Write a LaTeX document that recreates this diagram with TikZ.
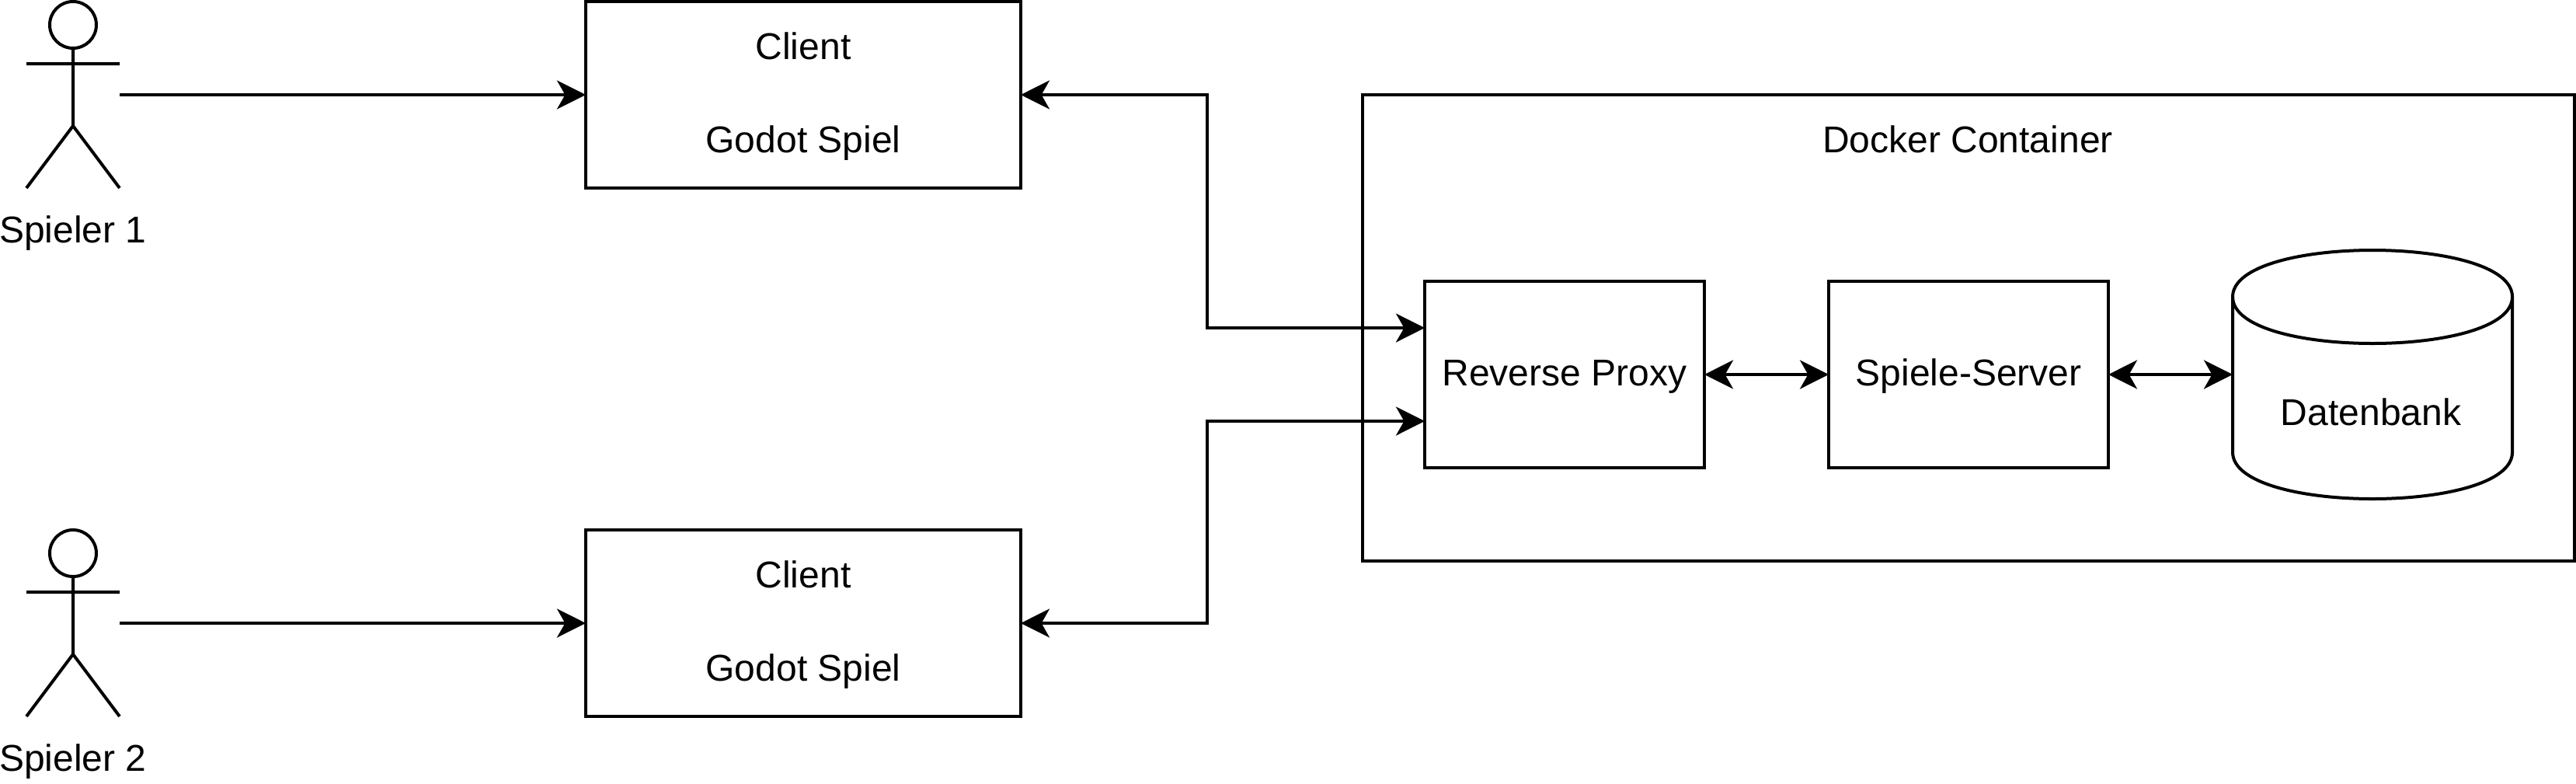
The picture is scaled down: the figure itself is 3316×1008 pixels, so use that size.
\documentclass[tikz,border=0pt]{standalone}
\usepackage{fontspec}
\setmainfont{Liberation Sans}
\usetikzlibrary{arrows.meta,calc}
\tikzset{
  x=0.25pt, y=-0.25pt,
  every node/.style={inner sep=0pt, outer sep=0pt, font=\fontsize{12pt}{15pt}\selectfont},
  txt/.style={text height=10pt, text depth=3.5pt},
  box/.style={draw=black, line width=1pt, text height=10.2pt, text depth=3.2pt},
  clientbox/.style={draw=black, line width=1pt, minimum width=140pt, minimum height=60pt, align=center},
  procbox/.style={box, minimum width=90pt, minimum height=60pt},
  conn/.style={line width=1pt, -{Stealth[length=9.25pt,width=9.25pt,inset=2.6pt]}},
  biconn/.style={line width=1pt, {Stealth[length=9.25pt,width=9.25pt,inset=2.6pt]}-{Stealth[length=9.25pt,width=9.25pt,inset=2.6pt]}},
  actorfig/.pic={
    \draw[line width=1pt] (0,30) ellipse [x radius=7.5pt, y radius=7.5pt];
    \draw[line width=1pt] (0,60) -- (0,160) (-60,80) -- (60,80) (-60,240) -- (0,160) -- (60,240);
  }
}
\begin{document}
\begin{tikzpicture}
\useasboundingbox (0,0) rectangle (3316,1008);
% actors
\node[minimum width=30pt, minimum height=60pt] (actorA) at (94,122) {};
\node[minimum width=30pt, minimum height=60pt] (actorB) at (94,802) {};
\pic at (actorA.north) {actorfig};
\pic at (actorB.north) {actorfig};
\node[txt] (labelA) at (94,299) {Spieler 1};
\node[txt] (labelB) at (94,979) {Spieler 2};
% clients
\node[clientbox] (clientA) at (1034,122) {\rule{0pt}{9.7pt}Client\\\mbox{}\\Godot Spiel};
\node[clientbox] (clientB) at (1034,802) {\rule{0pt}{9.7pt}Client\\\mbox{}\\Godot Spiel};
% container
\node[draw=black, line width=1pt, minimum width=390pt, minimum height=150pt] (docker) at (2534,422) {};
\node[txt] (dockerlabel) at (2533,183) {Docker Container};
\node[procbox] (proxy) at (2014,482) {Reverse Proxy};
\node[procbox] (server) at (2534,482) {Spiele-Server};
% database
\node[minimum width=90pt, minimum height=80pt] (db) at (3054,482) {};
\begin{scope}[shift={(db.north west)}]
\draw[line width=1pt]
  (0,60) .. controls (0,-20) and (360,-20) .. (360,60)
  -- (360,260) .. controls (360,340) and (0,340) .. (0,260) -- cycle;
\draw[line width=1pt]
  (0,60) .. controls (0,140) and (360,140) .. (360,60);
\end{scope}
\node[txt] (dblabel) at (3052,534) {Datenbank};
% connectors
\coordinate (proxyin1) at ($(proxy.north west)!0.25!(proxy.south west)$);
\coordinate (proxyin2) at ($(proxy.north west)!0.75!(proxy.south west)$);
\draw[conn] (actorA.east) -- (clientA.west);
\draw[conn] (actorB.east) -- (clientB.west);
\draw[biconn] (clientA.east) -- ++(240,0) |- (proxyin1);
\draw[biconn] (clientB.east) -- ++(240,0) |- (proxyin2);
\draw[biconn] (proxy.east) -- (server.west);
\draw[biconn] (server.east) -- (db.west);
\end{tikzpicture}
\end{document}
